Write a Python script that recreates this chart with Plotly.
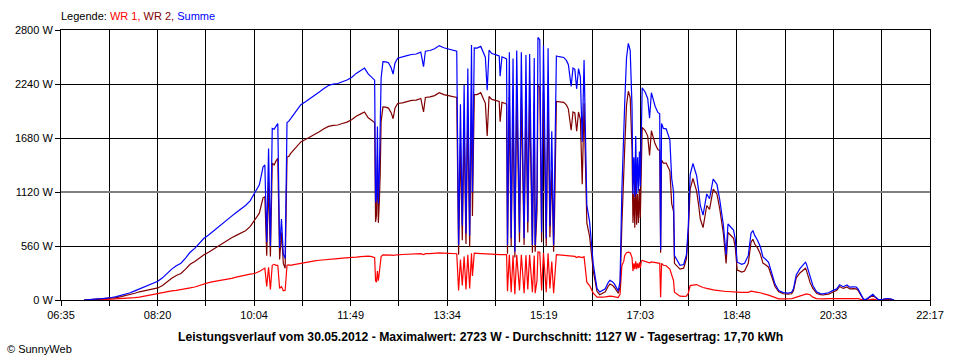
import plotly.graph_objects as go

# ---------------- data ----------------
times = [
    "07:00", "07:05", "07:10", "07:15", "07:20", "07:25", "07:30", "07:35", "07:40", "07:45",
    "07:50", "07:55", "08:00", "08:05", "08:10", "08:15", "08:20", "08:25", "08:30", "08:35",
    "08:40", "08:45", "08:50", "08:55", "09:00", "09:05", "09:10", "09:15", "09:20", "09:25",
    "09:30", "09:35", "09:40", "09:45", "09:50", "09:55", "10:00", "10:05", "10:10", "10:12",
    "10:14", "10:16", "10:18", "10:20", "10:22", "10:24", "10:26", "10:28", "10:30", "10:32",
    "10:34", "10:36", "10:38", "10:40", "10:42", "10:44", "10:46", "10:50", "10:55", "11:00",
    "11:05", "11:10", "11:15", "11:20", "11:25", "11:30", "11:35", "11:40", "11:45", "11:50",
    "11:55", "12:00", "12:04", "12:08", "12:12", "12:15", "12:16", "12:17", "12:18", "12:19",
    "12:20", "12:21", "12:22", "12:24", "12:27", "12:30", "12:33", "12:35", "12:37", "12:40",
    "12:45", "12:50", "12:55", "13:00", "13:05", "13:08", "13:10", "13:15", "13:20", "13:25",
    "13:30", "13:35", "13:40", "13:44", "13:46", "13:48", "13:50", "13:52", "13:54", "13:56",
    "13:58", "14:00", "14:01", "14:03", "14:06", "14:10", "14:15", "14:17", "14:19", "14:22",
    "14:26", "14:30", "14:31", "14:33", "14:36", "14:38", "14:39", "14:41", "14:43", "14:45",
    "14:47", "14:49", "14:52", "14:54", "14:57", "14:59", "15:01", "15:03", "15:06", "15:08",
    "15:09", "15:11", "15:12", "15:14", "15:16", "15:18", "15:21", "15:23", "15:25", "15:27",
    "15:29", "15:30", "15:32", "15:35", "15:40", "15:43", "15:45", "15:48", "15:50", "15:52",
    "15:54", "15:56", "15:58", "16:00", "16:02", "16:05", "16:08", "16:12", "16:16", "16:19",
    "16:22", "16:25", "16:28", "16:30", "16:33", "16:35", "16:39", "16:41", "16:43", "16:45",
    "16:46", "16:48", "16:50", "16:52", "16:53", "16:54", "16:55", "16:56", "16:57", "16:58",
    "16:59", "17:00", "17:01", "17:02", "17:03", "17:04", "17:05", "17:08", "17:11", "17:13",
    "17:15", "17:19", "17:22", "17:24", "17:25", "17:26", "17:28", "17:31", "17:35", "17:37",
    "17:39", "17:40", "17:43", "17:46", "17:50", "17:53", "17:55", "17:57", "18:00", "18:04",
    "18:06", "18:08", "18:11", "18:15", "18:18", "18:22", "18:26", "18:29", "18:33", "18:35",
    "18:36", "18:38", "18:40", "18:44", "18:46", "18:48", "18:53", "18:56", "19:00", "19:03",
    "19:05", "19:07", "19:10", "19:13", "19:16", "19:18", "19:22", "19:25", "19:29", "19:33",
    "19:38", "19:43", "19:47", "19:49", "19:52", "19:56", "20:00", "20:02", "20:03", "20:07",
    "20:10", "20:14", "20:18", "20:21", "20:27", "20:32", "20:36", "20:39", "20:43", "20:47",
    "20:50", "20:54", "20:57", "20:59", "21:03", "21:05", "21:08", "21:12", "21:15", "21:18",
    "21:21", "21:26", "21:30", "21:34", "21:37", "21:38",
]

wr1 = [
    0, 3, 4, 5, 5, 6, 8, 10, 12, 15,
    20, 25, 30, 40, 50, 60, 70, 80, 88, 95,
    100, 106, 115, 125, 135, 150, 170, 180, 190, 198,
    206, 213, 225, 238, 250, 262, 268, 275, 295, 305,
    320, 330, 140, 340, 110, 360, 370, 360, 360, 120,
    140, 95, 100, 360, 365, 360, 365, 372, 386, 392,
    398, 405, 412, 418, 425, 428, 430, 434, 436, 438,
    445, 450, 455, 455, 450, 440, 200, 185, 300, 200,
    280, 350, 450, 469, 470, 470, 465, 462, 466, 469,
    472, 474, 476, 478, 480, 470, 480, 480, 485, 488,
    486, 484, 482, 480, 100, 420, 150, 450, 110, 470,
    120, 485, 250, 485, 483, 480, 478, 475, 480, 476,
    475, 472, 470, 472, 470, 470, 90, 470, 80, 465,
    60, 468, 100, 470, 70, 465, 110, 470, 80, 460,
    70, 200, 498, 495, 100, 490, 80, 485, 120, 400,
    70, 250, 470, 468, 465, 462, 460, 455, 455, 452,
    440, 450, 445, 440, 450, 185, 150, 70, 30, 28,
    30, 32, 38, 40, 38, 35, 25, 60, 358, 400,
    460, 490, 497, 490, 470, 440, 300, 380, 320, 400,
    320, 380, 330, 390, 330, 400, 410, 400, 390, 385,
    395, 390, 385, 380, 30, 380, 360, 355, 320, 260,
    200, 80, 60, 40, 38, 40, 70, 150, 155, 160,
    150, 140, 130, 120, 110, 105, 100, 95, 90, 88,
    88, 88, 88, 85, 85, 82, 80, 80, 80, 92,
    90, 90, 80, 75, 64, 60, 50, 40, 25, 12,
    12, 12, 15, 20, 30, 45, 55, 62, 64, 55,
    30, 15, 12, 12, 15, 15, 15, 18, 18, 20,
    18, 18, 20, 15, 5, 2, 2, 5, 10, 5,
    2, 2, 3, 3, 1, 0,
]

wr2 = [
    0, 3, 5, 7, 9, 12, 18, 25, 35, 45,
    55, 70, 85, 95, 105, 118, 125, 150, 190, 225,
    255, 275, 320, 370, 400, 435, 470, 495, 525, 560,
    590, 618, 645, 670, 690, 718, 760, 830, 900, 980,
    1060, 1070, 460, 1230, 450, 1420, 1400, 1440, 1470, 420,
    700, 380, 330, 1480, 1490, 1520, 1540, 1590, 1640, 1665,
    1690, 1715, 1745, 1775, 1800, 1810, 1815, 1830, 1845, 1870,
    1905, 1930, 1950, 1890, 1860, 1840, 810, 880, 1500, 800,
    1000, 1300, 1850, 2003, 2000, 1990, 1940, 1880, 1990, 2038,
    2045, 2060, 2070, 2073, 2090, 1950, 2100, 2107, 2120, 2150,
    2130, 2120, 2110, 2100, 470, 1610, 620, 1780, 580, 1930,
    550, 2160, 870, 2130, 2130, 2150, 2040, 1700, 2110, 2080,
    2070, 2060, 1850, 2050, 2040, 2030, 480, 2100, 560, 2040,
    440, 2120, 600, 2100, 570, 2075, 700, 2080, 490, 2050,
    500, 920, 2225, 2205, 600, 2150, 560, 2125, 650, 1350,
    500, 870, 2060, 2055, 2050, 2020, 1980, 1760, 1950, 1940,
    1750, 1950, 1870, 1200, 2040, 800, 660, 300, 90, 55,
    70, 85, 140, 165, 150, 130, 70, 130, 780, 1450,
    1560, 2020, 2165, 2100, 1860, 1560, 800, 1100, 750, 1300,
    780, 1100, 800, 1150, 850, 1600, 1790, 1760, 1700, 1500,
    1755, 1620, 1560, 1550, 490, 1450, 1420, 1420, 1340, 1000,
    920, 380, 350, 320, 330, 430, 700, 1150, 1260, 1130,
    1000, 840, 750, 980, 940, 1150, 1100, 950, 690, 420,
    380, 700, 680, 640, 540, 310, 290, 300, 380, 600,
    630, 580, 540, 480, 380, 370, 340, 250, 140, 85,
    65, 60, 65, 95, 230, 280, 320, 330, 310, 180,
    120, 70, 55, 52, 60, 85, 100, 140, 120, 135,
    115, 118, 115, 100, 40, 5, 5, 30, 50, 25,
    3, 6, 12, 10, 2, 0,
]

# Summe is by definition WR 1 + WR 2
summe = [a + b for a, b in zip(wr1, wr2)]

x_start, x_end = "06:35", "22:17"
x_tick_labels = ["06:35", "08:20", "10:04", "11:49", "13:34",
                 "15:19", "17:03", "18:48", "20:33", "22:17"]
y_ticks = [0, 560, 1120, 1680, 2240, 2800]
y_tick_labels = ["0 W", "560 W", "1120 W", "1680 W", "2240 W", "2800 W"]
highlight_grid_w = 1120   # grid line drawn in grey in the reference

legend_text = ("Legende: <span style='color:#ff0000'>WR 1, </span>"
               "<span style='color:#800000'>WR 2, </span>"
               "<span style='color:#0000ff'>Summe</span>")
title_text = ("<b>Leistungsverlauf vom 30.05.2012 - Maximalwert: 2723 W - "
              "Durchschnitt: 1127 W - Tagesertrag: 17,70 kWh</b>")
credit_text = "© SunnyWeb"


def to_min(s):
    h, m = s.split(":")
    return int(h) * 60 + int(m)


xs = [to_min(t) for t in times]
x0, x1 = to_min(x_start), to_min(x_end)
n_int = 2 * (len(x_tick_labels) - 1)
tickvals = [x0 + k * (x1 - x0) / n_int for k in range(n_int + 1)]
ticktext = [x_tick_labels[k // 2] if k % 2 == 0 else "" for k in range(n_int + 1)]

FONT = "Liberation Sans, Arial, sans-serif"

fig = go.Figure()
fig.add_trace(go.Scatter(x=xs, y=wr1, mode="lines", name="WR 1",
                         line=dict(color="#ff0000", width=1.2), hoverinfo="skip"))
fig.add_trace(go.Scatter(x=xs, y=wr2, mode="lines", name="WR 2",
                         line=dict(color="#800000", width=1.2), hoverinfo="skip"))
fig.add_trace(go.Scatter(x=xs, y=summe, mode="lines", name="Summe",
                         line=dict(color="#0000ff", width=1.2), hoverinfo="skip"))

fig.add_shape(type="line", xref="x", yref="y", x0=x0, x1=x1,
              y0=highlight_grid_w, y1=highlight_grid_w,
              line=dict(color="#808080", width=2), layer="between")

L, R, T, B = 61, 30, 30, 60
W, H = 960, 360
pw, ph = W - L - R, H - T - B


def px(xp):
    return (xp - L) / pw


def py(yp):
    return (H - B - yp) / ph


fig.add_annotation(text=legend_text, xref="paper", yref="paper",
                   x=px(59), y=py(16.5), xanchor="left", yanchor="middle",
                   showarrow=False, font=dict(family=FONT, size=11, color="black"))
fig.add_annotation(text=title_text, xref="paper", yref="paper",
                   x=px(480), y=py(337), xanchor="center", yanchor="middle",
                   showarrow=False, font=dict(family=FONT, size=12.2, color="black"))
fig.add_annotation(text=credit_text, xref="paper", yref="paper",
                   x=px(5), y=py(349), xanchor="left", yanchor="middle",
                   showarrow=False, font=dict(family=FONT, size=11, color="black"))

axis_common = dict(showgrid=True, gridcolor="black", gridwidth=1,
                   showline=True, linecolor="black", linewidth=1, mirror=True,
                   ticks="outside", ticklen=5, tickcolor="black", tickwidth=1,
                   zeroline=False, fixedrange=True,
                   tickfont=dict(family=FONT, size=11, color="black"))

fig.update_layout(
    width=W, height=H,
    margin=dict(l=L, r=R, t=T, b=B, pad=0),
    paper_bgcolor="white", plot_bgcolor="white",
    showlegend=False,
    hovermode=False,
    xaxis=dict(range=[x0, x1], tickmode="array", tickvals=tickvals,
               ticktext=ticktext, **axis_common),
    yaxis=dict(range=[0, 2800], tickmode="array", tickvals=y_ticks,
               ticktext=y_tick_labels, **axis_common),
)

fig.write_html("out.html",
               config={"displayModeBar": False, "staticPlot": True},
               post_script="document.body.style.margin='0';"
                           "document.body.style.overflow='hidden';")
